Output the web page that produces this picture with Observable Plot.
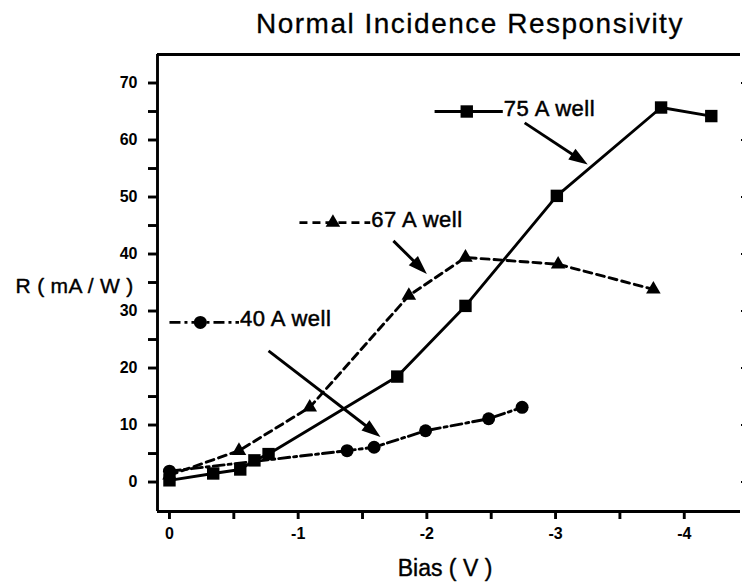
<!DOCTYPE html>
<html><head><meta charset="utf-8">
<script src="https://cdn.jsdelivr.net/npm/d3@7"></script>
<script src="https://cdn.jsdelivr.net/npm/@observablehq/plot@0.6"></script>
<style>
body{margin:0;background:#fff;font-family:"Liberation Sans",Arial,sans-serif;}
#title{height:50px;position:relative;width:742px;overflow:hidden;}
#title span{position:absolute;left:256px;top:10px;font-size:28px;line-height:1;letter-spacing:1.5px;color:#000;white-space:nowrap;-webkit-text-stroke:0.3px #000;}
svg text{font-family:"Liberation Sans",Arial,sans-serif;}
</style></head><body>
<div id="title"><span>Normal Incidence Responsivity</span></div>
<div id="chart"></div>
<script>
// ---- data ----
const bias75 = [0, -0.34, -0.55, -0.66, -0.77, -1.77, -2.3, -3.01, -3.82, -4.21];
const resp75 = [0.3, 1.5, 2.2, 3.8, 4.9, 18.5, 30.9, 50.2, 65.7, 64.2];
const bias67 = [0, -0.54, -1.09, -1.86, -2.3, -3.02, -3.76];
const resp67 = [1.2, 5.5, 13.1, 32.7, 39.4, 38.2, 33.8];
const bias40 = [0, -1.38, -1.59, -1.99, -2.48, -2.74];
const resp40 = [1.9, 5.5, 6.1, 9.0, 11.1, 13.1];
const seriesNames = ["75 A well", "67 A well", "40 A well"];
const seriesSymbols = ["square", "triangle", "circle"];
// in-plot key (legend) positions, in data units
const keyX1 = [-2.06, -1.01, 0.0];
const keyX2 = [-2.59, -1.56, -0.54];
const keyMarkX = [-2.31, -1.27, -0.24];
const keyY = [65.0, 45.5, 28.0];
// annotation arrows (tail -> tip), in data units
const arrowX1 = [-2.76, -1.74, -0.77];
const arrowY1 = [63.0, 42.3, 23.0];
const arrowX2 = [-3.25, -2.0, -1.64];
const arrowY2 = [55.7, 36.5, 7.9];
const xTicks = [0, -0.5, -1, -1.5, -2, -2.5, -3, -3.5, -4];
const yTicks = [0, 5, 10, 15, 20, 25, 30, 35, 40, 45, 50, 55, 60, 65, 70];
const yRightTicks = [0, 10, 20, 30, 40, 50, 60, 70];
const xLabel = "Bias ( V )";
const yLabel = "R ( mA / W )";

// ---- layout ----
const W = 742, H = 537, mT = 4, mB = 76, mL = 157, mR = 2;
const xDom = [0.093, -4.437];
const yDom = [-5.17, 75];
const SW = 2.9;
const kx = (W - mL - mR) / (xDom[1] - xDom[0]);   // px per data unit (x)
const ky = -(H - mT - mB) / (yDom[1] - yDom[0]);  // px per data unit (y)

// ---- build tables ----
const mk = (xs, ys, s) => xs.map((x, i) => ({bias: x, r: ys[i], series: s}));
const d75 = mk(bias75, resp75, seriesNames[0]);
const d67 = mk(bias67, resp67, seriesNames[1]);
const d40 = mk(bias40, resp40, seriesNames[2]);
const keys = seriesNames.map((s, i) => {
  const dxp = (arrowX2[i] - arrowX1[i]) * kx, dyp = (arrowY2[i] - arrowY1[i]) * ky;
  const len = Math.hypot(dxp, dyp);
  const back = 9;
  return {s, sym: seriesSymbols[i], x1: keyX1[i], x2: keyX2[i], xm: keyMarkX[i], y: keyY[i],
    ax1: arrowX1[i], ay1: arrowY1[i], ax2: arrowX2[i], ay2: arrowY2[i],
    sx2: arrowX2[i] - (dxp / len) * back / kx, sy2: arrowY2[i] - (dyp / len) * back / ky,
    rot: Math.atan2(dxp, -dyp) * 180 / Math.PI};
});
const dashes = ["none", "8,5", "11,4,3,4"];
const symR = {square: 7, triangle: 5.4, circle: 6.5};
const arrowHead = {draw(ctx) { ctx.moveTo(0, 0); ctx.lineTo(-6.5, 19); ctx.lineTo(6.5, 19); ctx.closePath(); }};
const heavy = {fill: "black", stroke: "black", strokeWidth: 0.4, paintOrder: "fill"};

const marks = [
  Plot.ruleY([yDom[1]], {stroke: "black", strokeWidth: 3}),
  Plot.ruleY([yDom[0]], {stroke: "black", strokeWidth: SW}),
  Plot.ruleX([xDom[0]], {stroke: "black", strokeWidth: SW}),
  Plot.axisX({ticks: xTicks, tickSize: 8, tickPadding: 8, strokeWidth: SW, fontSize: 16, fontWeight: "bold",
    tickFormat: d => Number.isInteger(d) ? String(d) : "", label: null}),
  Plot.axisY({ticks: yTicks, tickSize: 9, tickPadding: 11, strokeWidth: SW, fontSize: 16, fontWeight: "bold",
    tickFormat: d => d % 10 === 0 ? String(d) : "", label: null}),
  Plot.axisY({anchor: "right", ticks: yRightTicks, tickSize: 2, strokeWidth: 2, tickFormat: () => "", label: null}),
  Plot.text([xLabel], {frameAnchor: "bottom", lineAnchor: "middle", dx: -4, dy: 57, fontSize: 23, ...heavy}),
  Plot.text([yLabel], {frameAnchor: "left", textAnchor: "end", lineAnchor: "middle", dx: -24, dy: 3, fontSize: 21, ...heavy}),
  Plot.line(d75, {x: "bias", y: "r", stroke: "black", strokeWidth: SW}),
  Plot.line(d67, {x: "bias", y: "r", stroke: "black", strokeWidth: SW, strokeDasharray: dashes[1]}),
  Plot.line(d40, {x: "bias", y: "r", stroke: "black", strokeWidth: SW, strokeDasharray: dashes[2]}),
  Plot.dot(d75, {x: "bias", y: "r", symbol: "square", r: symR.square, fill: "black"}),
  Plot.dot(d67, {x: "bias", y: "r", symbol: "triangle", r: symR.triangle, fill: "black"}),
  Plot.dot(d40, {x: "bias", y: "r", symbol: "circle", r: symR.circle, fill: "black"}),
];
keys.forEach((k, i) => {
  marks.push(Plot.link([k], {x1: "x1", y1: "y", x2: "x2", y2: "y", stroke: "black", strokeWidth: SW, strokeDasharray: dashes[i]}));
  marks.push(Plot.dot([k], {x: "xm", y: "y", symbol: k.sym, r: symR[k.sym], fill: "black"}));
  marks.push(Plot.text([k], {x: "x2", y: "y", text: "s", textAnchor: "start", lineAnchor: "middle", dx: 1, dy: -3, fontSize: 22, ...heavy, strokeWidth: 0.5}));
  marks.push(Plot.link([k], {x1: "ax1", y1: "ay1", x2: "sx2", y2: "sy2", stroke: "black", strokeWidth: SW}));
  marks.push(Plot.dot([k], {x: "ax2", y: "ay2", symbol: arrowHead, r: 5, rotate: "rot", fill: "black", stroke: "none"}));
});

const chart = Plot.plot({
  width: W, height: H,
  marginTop: mT, marginBottom: mB, marginLeft: mL, marginRight: mR,
  x: {domain: xDom},
  y: {domain: yDom},
  style: {fontFamily: "'Liberation Sans', Arial, sans-serif", color: "black", background: "white", overflow: "visible"},
  marks
});
document.getElementById("chart").appendChild(chart);
d3.select(chart).selectAll("text")
  .filter(function () { return seriesNames.includes(this.textContent); })
  .style("letter-spacing", "0.5px");
d3.select(chart).selectAll("text")
  .filter(function () { return this.textContent === yLabel; })
  .style("letter-spacing", "0.3px");
</script>
</body></html>
